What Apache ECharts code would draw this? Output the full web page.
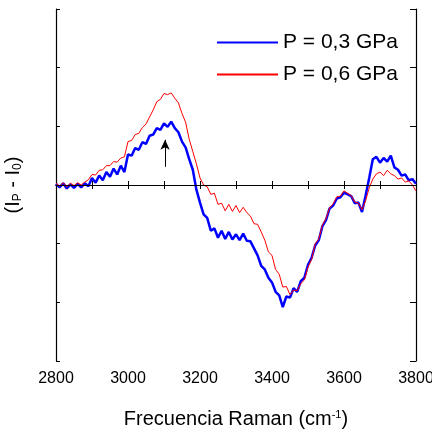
<!DOCTYPE html>
<html><head><meta charset="utf-8">
<script src="https://cdn.jsdelivr.net/npm/echarts@6/dist/echarts.min.js"></script>
<style>html,body{margin:0;padding:0;background:#fff}#c{width:432px;height:432px}</style>
</head><body><div id="c"></div>
<script>
// Wavenumbers (cm-1), step 10 from 2800 to 3800
const wavenumbers = [];
for (let w = 2800; w <= 3800; w += 10) wavenumbers.push(w);

const seriesNames = ['P = 0,3 GPa', 'P = 0,6 GPa'];

const blueP03 = [
 0.02,-0.04,0.03,-0.06,0.01,-0.05,0.02,-0.04,0.03,-0.02,
 0.12,0.04,0.16,0.08,0.22,0.14,0.28,0.18,0.33,0.22,
 0.52,0.50,0.63,0.60,0.73,0.70,0.84,0.86,0.97,0.94,
 1.05,0.99,1.08,0.97,0.90,0.74,0.64,0.44,0.26,-0.08,
 -0.30,-0.50,-0.56,-0.78,-0.74,-0.90,-0.78,-0.92,-0.80,-0.93,
 -0.84,-0.94,-0.83,-0.95,-0.96,-1.08,-1.20,-1.38,-1.44,-1.58,
 -1.66,-1.82,-1.88,-2.08,-1.90,-1.92,-1.76,-1.82,-1.64,-1.58,
 -1.36,-1.24,-1.03,-0.94,-0.70,-0.60,-0.40,-0.35,-0.23,-0.21,
 -0.13,-0.16,-0.19,-0.31,-0.30,-0.46,-0.18,0.12,0.44,0.48,
 0.38,0.46,0.40,0.50,0.30,0.26,0.16,0.18,0.08,0.10,
 0.02];

const redP06 = [
 0.03,-0.02,0.04,-0.03,0.03,-0.01,0.04,0.00,0.05,0.09,
 0.18,0.17,0.25,0.26,0.33,0.33,0.40,0.39,0.46,0.48,
 0.74,0.76,0.86,0.88,0.98,1.04,1.16,1.28,1.42,1.46,
 1.56,1.54,1.57,1.48,1.40,1.22,1.07,0.78,0.57,0.36,
 0.12,0.00,-0.03,-0.16,-0.14,-0.33,-0.31,-0.44,-0.33,-0.45,
 -0.35,-0.47,-0.38,-0.47,-0.53,-0.66,-0.67,-0.80,-0.94,-1.14,
 -1.20,-1.44,-1.52,-1.74,-1.73,-1.87,-1.79,-1.80,-1.68,-1.62,
 -1.40,-1.27,-1.00,-0.92,-0.68,-0.57,-0.39,-0.32,-0.20,-0.19,
 -0.10,-0.14,-0.18,-0.29,-0.31,-0.42,-0.27,-0.05,0.10,0.19,
 0.22,0.16,0.25,0.19,0.16,0.10,0.12,0.05,0.07,0.00,
 -0.10];

// Arrow annotation (data coordinates)
const arrowX = 3103;
const arrowFrom = 0.31;
const arrowTo = 0.77;

const xTickLabels = [2800, 3000, 3200, 3400, 3600, 3800];

const FONT = 'Liberation Sans';
const chart = echarts.init(document.getElementById('c'));

const tickCommon = {show: true, inside: true, length: 4, lineStyle: {color: '#000', width: 1}};
const lineCommon = {show: true, lineStyle: {color: '#000', width: 1.2}};

chart.setOption({
  animation: false,
  backgroundColor: '#fff',
  grid: {left: 56, right: 16, top: 9, bottom: 71, containLabel: false, outerBoundsMode: 'none'},
  legend: {
    data: seriesNames,
    orient: 'vertical',
    left: 216, top: 32, padding: 0,
    itemWidth: 61, itemHeight: 14, itemGap: 11,
    itemStyle: {opacity: 0},
    textStyle: {fontFamily: FONT, fontSize: 21, color: '#000'},
  },
  xAxis: [{
    type: 'value', min: 2800, max: 3800, interval: 100,
    axisLine: lineCommon, axisTick: tickCommon, splitLine: {show: false},
    axisLabel: {
      fontFamily: FONT, fontSize: 16, color: '#000', margin: 10,
      formatter: v => xTickLabels.includes(v) ? String(v) : ''
    },
    name: '{a|Frecuencia Raman (cm}{s|-1}{a|)}',
    nameLocation: 'middle', nameGap: 48,
    nameTextStyle: {rich: {
      a: {fontFamily: FONT, fontSize: 20, color: '#000'},
      s: {fontFamily: FONT, fontSize: 11, color: '#000', verticalAlign: 'top', padding: [0,0,10,0]}
    }}
  }, {
    type: 'value', position: 'top', min: 2800, max: 3800, interval: 100,
    axisLine: lineCommon, axisTick: tickCommon, axisLabel: {show: false}, splitLine: {show: false}
  }],
  yAxis: [{
    type: 'value', min: -3, max: 3, interval: 1,
    axisLine: lineCommon, axisTick: tickCommon, axisLabel: {show: false}, splitLine: {show: false},
    name: '{a|(I}{s|P}{a| - I}{s|0}{a|)}',
    nameLocation: 'middle', nameGap: 32, nameRotate: 90,
    nameTextStyle: {rich: {
      a: {fontFamily: FONT, fontSize: 20, color: '#000'},
      s: {fontFamily: FONT, fontSize: 12, color: '#000', padding: [10,0,0,0]}
    }}
  }, {
    type: 'value', position: 'right', min: -3, max: 3, interval: 1,
    axisLine: lineCommon, axisTick: Object.assign({}, tickCommon, {length: 6}), axisLabel: {show: false}, splitLine: {show: false}
  }],
  series: [{
    name: seriesNames[0], type: 'line', symbol: 'none', xAxisIndex: 0, yAxisIndex: 0,
    data: wavenumbers.map((w, i) => [w, blueP03[i]]),
    lineStyle: {color: '#0000ff', width: 2.5}, itemStyle: {color: '#0000ff'}, z: 3,
    markLine: {
      silent: true, symbol: ['none', 'none'], animation: false,
      label: {show: false},
      lineStyle: {color: '#000', width: 1.2, type: 'solid'},
      data: [{yAxis: 0}]
    }
  }, {
    name: seriesNames[1], type: 'line', symbol: 'none', xAxisIndex: 0, yAxisIndex: 0,
    data: wavenumbers.map((w, i) => [w, redP06[i]]),
    lineStyle: {color: '#ff0000', width: 1}, itemStyle: {color: '#ff0000'}, z: 4,
    markLine: {
      silent: true, symbol: ['none', 'arrow'], symbolSize: [7, 10], animation: false,
      label: {show: false},
      lineStyle: {color: '#000', width: 1, type: 'solid'},
      data: [[{coord: [arrowX, arrowFrom]}, {coord: [arrowX, arrowTo]}]]
    }
  }]
});
</script>
</body></html>
